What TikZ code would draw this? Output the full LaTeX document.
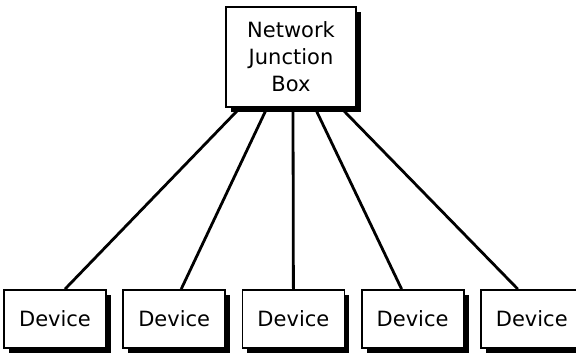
\documentclass[tikz,border=0pt]{standalone}
\usepackage{fontspec}
\setmainfont{DejaVu Sans}
\usetikzlibrary{positioning,shadows}

\begin{document}
\begin{tikzpicture}[x=1pt,y=-1pt,node distance=15.4pt]
\tikzset{
 box/.style={draw=black,line width=1.8pt,fill=white,drop shadow={fill=black,opacity=1,shadow xshift=5pt,shadow yshift=-5pt},font=\fontsize{21}{27}\selectfont,align=center,inner sep=0pt},
 dev/.style={box,minimum width=102pt,minimum height=58pt},
 a/.style={line width=2.8pt}
}
\useasboundingbox (0,0) rectangle (576,356);
\clip (0,0) rectangle (576,356);
\node[box,minimum width=130pt,minimum height=100pt] (hub) at (291,57) {Network\\Junction\\Box};
\node[dev] (d1) at (55,319) {Device};
\node[dev,right=of d1] (d2) {Device};
\node[dev,right=of d2] (d3) {Device};
\node[dev,right=of d3] (d4) {Device};
\node[dev,right=of d4] (d5) {Device};
\foreach \i/\dx/\ex in {1/-51/10,2/-24/7,3/2/0,4/24/-11,5/50/-14}{\draw[a] ([xshift=\dx pt]hub.south) -- ([xshift=\ex pt]d\i.north);}
\end{tikzpicture}
\end{document}
